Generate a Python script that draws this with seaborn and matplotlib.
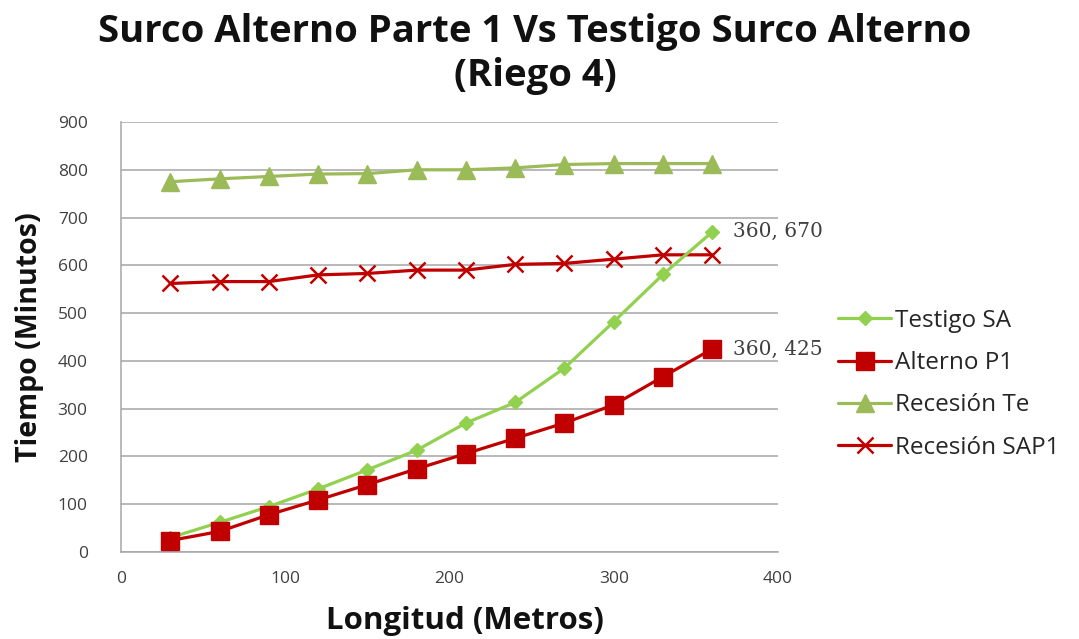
import matplotlib
matplotlib.use("Agg")
import matplotlib.pyplot as plt
import seaborn as sns
import pandas as pd

# Distance along the furrow (m)
longitud = [30, 60, 90, 120, 150, 180, 210, 240, 270, 300, 330, 360]

# Advance and recession times (min)
testigo_sa = [30, 62, 95, 132, 172, 213, 270, 313, 385, 482, 581, 670]
alterno_p1 = [24, 43, 78, 109, 141, 174, 206, 238, 270, 308, 367, 425]
recesion_te = [775, 781, 786, 791, 792, 800, 800, 804, 811, 813, 813, 813]
recesion_sap1 = [562, 566, 566, 580, 583, 590, 590, 602, 604, 613, 622, 622]

series_names = ["Testigo SA", "Alterno P1", "Recesión Te", "Recesión SAP1"]
x_ticks = [0, 100, 200, 300, 400]
y_ticks = [0, 100, 200, 300, 400, 500, 600, 700, 800, 900]

df = pd.DataFrame({
    "Longitud": longitud * 4,
    "Tiempo": testigo_sa + alterno_p1 + recesion_te + recesion_sap1,
    "Serie": sum([[n] * len(longitud) for n in series_names], []),
})

sns.set_theme(style="white")
plt.rcParams["font.family"] = ["Open Sans", "DejaVu Sans"]

fig = plt.figure(figsize=(10.79, 6.39), dpi=100)
ax = fig.add_axes([121 / 1079, 1 - 552 / 639, (778 - 121) / 1079, (552 - 122) / 639])

styles = {
    "Testigo SA": dict(color="#92D050", marker="D", markersize=7.5, linewidth=2.3),
    "Alterno P1": dict(color="#C00000", marker="s", markersize=12.5, linewidth=2.3),
    "Recesión Te": dict(color="#9BBB59", marker="^", markersize=12.5, linewidth=2.3),
    "Recesión SAP1": dict(color="#C00000", marker="x", markersize=12, linewidth=2.3,
                          markeredgewidth=1.8),
}
zorders = {"Recesión Te": 2, "Recesión SAP1": 3, "Testigo SA": 4, "Alterno P1": 5}

for name in series_names:
    sub = df[df["Serie"] == name]
    st = styles[name]
    sns.lineplot(data=sub, x="Longitud", y="Tiempo", ax=ax, label=name,
                 color=st["color"], marker=st["marker"], markersize=st["markersize"],
                 linewidth=st["linewidth"], markeredgecolor=st["color"],
                 markeredgewidth=st.get("markeredgewidth", 1.0),
                 zorder=zorders[name])

# value labels on the last points
for vals in (testigo_sa, alterno_p1):
    ax.annotate(f"{longitud[-1]}, {vals[-1]}", (longitud[-1], vals[-1]),
                xytext=(15, 0), textcoords="offset points", va="center", ha="left",
                fontsize=14.5, color="#404040", family="DejaVu Serif")

ax.set_xlim(0, 400)
ax.set_ylim(0, 900)
ax.set_xticks(x_ticks)
ax.set_yticks(y_ticks)
ax.tick_params(axis="y", labelsize=12.5, labelcolor="#404040", length=0, pad=24)
ax.tick_params(axis="x", labelsize=12.5, labelcolor="#404040", length=0, pad=14)
ax.yaxis.grid(True, color="#A6A6A6", linewidth=1.1)
ax.xaxis.grid(False)
for side in ("top", "right"):
    ax.spines[side].set_visible(False)
for side in ("left", "bottom"):
    ax.spines[side].set_color("#A6A6A6")
    ax.spines[side].set_linewidth(1.1)

ax.set_xlabel("Longitud (Metros)", fontsize=22.5, fontweight="bold", color="#111111", labelpad=12)
ax.xaxis.set_label_coords((465 - 121) / (778 - 121), -0.125)
ax.set_ylabel("Tiempo (Minutos)", fontsize=20.5, fontweight="bold", color="#111111", labelpad=10)

fig.suptitle("Surco Alterno Parte 1 Vs Testigo Surco Alterno\n(Riego 4)",
             x=535 / 1079, y=0.98, fontsize=27.5, fontweight="bold", color="#111111",
             linespacing=1.2)

leg = ax.legend(loc="center left", bbox_to_anchor=(1.058, 0.39), frameon=False,
                fontsize=17.5, handlelength=2.2, labelspacing=0.75, handletextpad=0.15)
for t in leg.get_texts():
    t.set_color("#262626")

fig.savefig("out.png", dpi=100)
